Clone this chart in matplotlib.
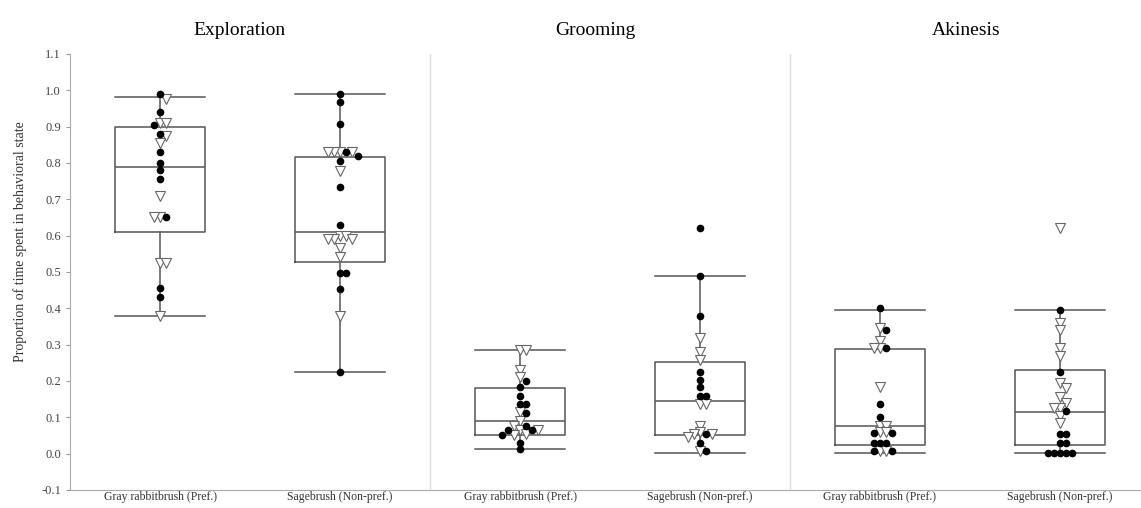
import numpy as np
import matplotlib
matplotlib.use("Agg")
import matplotlib.pyplot as plt

plt.rcParams['font.family'] = ['Liberation Serif', 'DejaVu Serif']

# panel titles and the two plant groups in each panel
behaviours = ['Exploration', 'Grooming', 'Akinesis']
plants = ['Gray rabbitbrush (Pref.)', 'Sagebrush (Non-pref.)']

# points (filled circles / open triangles)
expl_gray_filled = [0.99, 0.94, 0.905, 0.88, 0.83, 0.80, 0.78, 0.755, 0.65, 0.455, 0.43]
expl_gray_tri = [0.975, 0.91, 0.91, 0.875, 0.855, 0.71, 0.65, 0.65, 0.525, 0.525, 0.38]
expl_sage_filled = [0.99, 0.967, 0.906, 0.83, 0.82, 0.806, 0.735, 0.63, 0.497, 0.497, 0.453, 0.226]
expl_sage_tri = [0.83, 0.83, 0.83, 0.83, 0.777, 0.60, 0.60, 0.59, 0.59, 0.59, 0.565, 0.54, 0.38]

groom_gray_filled = [0.2, 0.183, 0.16, 0.138, 0.138, 0.113, 0.077, 0.064, 0.064, 0.05, 0.03, 0.013]
groom_gray_tri = [0.285, 0.285, 0.23, 0.21, 0.115, 0.09, 0.075, 0.064, 0.064, 0.055, 0.05]
groom_sage_filled = [0.62, 0.49, 0.38, 0.224, 0.204, 0.183, 0.16, 0.16, 0.055, 0.03, 0.008]
groom_sage_tri = [0.317, 0.28, 0.257, 0.138, 0.138, 0.077, 0.06, 0.055, 0.055, 0.045, 0.008]

akin_gray_filled = [0.4, 0.34, 0.29, 0.138, 0.1, 0.058, 0.058, 0.028, 0.028, 0.028, 0.008, 0.008]
akin_gray_tri = [0.345, 0.31, 0.29, 0.29, 0.183, 0.077, 0.077, 0.06, 0.06, 0.008, 0.008]
akin_sage_filled = [0.395, 0.224, 0.118, 0.055, 0.055, 0.028, 0.028, 0.003, 0.003, 0.003, 0.003, 0.003]
akin_sage_tri = [0.62, 0.36, 0.34, 0.29, 0.27, 0.195, 0.18, 0.155, 0.14, 0.125, 0.125, 0.105, 0.085]

# box stats: lower whisker, q1, median, q3, upper whisker
box_lo = [0.378, 0.224, 0.012, 0.003, 0.002, 0.002]
box_q1 = [0.611, 0.528, 0.05, 0.05, 0.025, 0.025]
box_med = [0.79, 0.611, 0.09, 0.146, 0.075, 0.116]
box_q3 = [0.898, 0.817, 0.18, 0.252, 0.287, 0.229]
box_hi = [0.983, 0.989, 0.285, 0.49, 0.395, 0.395]

groups = [
    (expl_gray_filled, expl_gray_tri), (expl_sage_filled, expl_sage_tri),
    (groom_gray_filled, groom_gray_tri), (groom_sage_filled, groom_sage_tri),
    (akin_gray_filled, akin_gray_tri), (akin_sage_filled, akin_sage_tri),
]

fig = plt.figure(figsize=(11.41, 5.08), dpi=100)
ax = fig.add_axes([70 / 1141, 1 - 490 / 508, 1 - 70 / 1141, (490 - 54) / 508])
ax.set_xlim(-0.5, 5.45)
ax.set_ylim(-0.1, 1.1)

# pixels per data unit, used to spread overlapping points
px_x = 180.0
px_y = 436.0 / 1.2


def swarm(values, gap=6.0):
    placed = []
    offsets = []
    for v in values:
        k = 0
        while True:
            step = (k + 1) // 2 * (1 if k % 2 else -1)
            dx = step * gap
            ok = all(abs((v - pv) * px_y) >= gap or abs(dx - pdx) >= gap for pv, pdx in placed)
            if ok:
                break
            k += 1
        placed.append((v, dx))
        offsets.append(dx / px_x)
    return offsets


stats = []
for i in range(6):
    stats.append(dict(whislo=box_lo[i], q1=box_q1[i], med=box_med[i],
                      q3=box_q3[i], whishi=box_hi[i], fliers=[]))
ax.bxp(stats, positions=range(6), widths=0.5, capwidths=0.5, showfliers=False,
       boxprops=dict(color='#555555', linewidth=1.1),
       medianprops=dict(color='#555555', linewidth=1.1),
       whiskerprops=dict(color='#555555', linewidth=1.1),
       capprops=dict(color='#555555', linewidth=1.1))

for i, (filled, tri) in enumerate(groups):
    vals = list(filled) + list(tri)
    kinds = ['f'] * len(filled) + ['t'] * len(tri)
    order = np.argsort(vals)[::-1]
    offs = swarm([vals[j] for j in order])
    for j, o in zip(order, offs):
        if kinds[j] == 'f':
            ax.plot(i + o, vals[j], 'o', color='black', markersize=4.5, zorder=4)
        else:
            ax.plot(i + o, vals[j], 'v', markerfacecolor='white', markeredgecolor='#666666',
                    markeredgewidth=0.8, markersize=6.5, zorder=3)

for xs in [1.5, 3.5]:
    ax.axvline(xs, color='#dddddd', linewidth=1)

title_x = [0.44, 2.42, 4.48]
for t, tx in zip(behaviours, title_x):
    ax.text(tx, 1.14, t, ha='center', va='bottom', fontsize=14, transform=ax.transData)

ax.set_xticks(range(6))
ax.set_xticklabels(plants * 3, fontsize=8.5, color='#333333')
ax.tick_params(axis='x', length=0, pad=1)
ax.set_yticks(np.arange(-0.1, 1.11, 0.1))
ax.set_yticklabels(['%.1f' % v for v in np.arange(-0.1, 1.11, 0.1)], fontsize=9, color='#444444')
ax.tick_params(axis='y', length=3, color='#999999')
ax.set_ylabel('Proportion of time spent in behavioral state', fontsize=10, color='#333333')
ax.yaxis.set_label_coords(-0.04, 0.57)

for s in ['top', 'right']:
    ax.spines[s].set_visible(False)
for s in ['left', 'bottom']:
    ax.spines[s].set_color('#aaaaaa')

fig.savefig('out.png', dpi=100)
